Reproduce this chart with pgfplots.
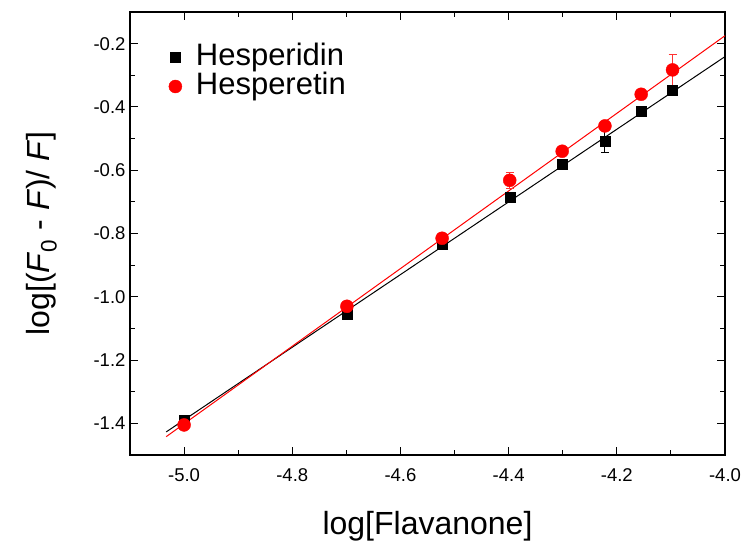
\documentclass[border=0pt]{standalone}
\usepackage{fontspec}
\setmainfont{Liberation Sans}
\usepackage{pgfplots}
\pgfplotsset{compat=1.18}

\pgfplotstableread{
x y ey
-5.000 -1.390 0.010
-4.699 -1.055 0.015
-4.523 -0.835 0.010
-4.398 -0.685 0.010
-4.301 -0.580 0.010
-4.222 -0.508 0.035
-4.155 -0.415 0.010
-4.097 -0.348 0.010
}\hesperidin

\pgfplotstableread{
x y ey
-5.000 -1.405 0.010
-4.699 -1.030 0.010
-4.523 -0.815 0.010
-4.398 -0.632 0.025
-4.301 -0.540 0.010
-4.222 -0.460 0.010
-4.155 -0.360 0.010
-4.097 -0.283 0.050
}\hesperetin

\begin{document}
\begin{tikzpicture}
\begin{axis}[
    at={(0pt,0pt)}, anchor=south west,
    scale only axis,
    width=595pt, height=443pt,
    xmin=-5.1, xmax=-4.0,
    ymin=-1.5, ymax=-0.1,
    xtick={-5.0,-4.8,...,-4.0},
    ytick={-1.4,-1.2,...,-0.2},
    minor x tick num=1,
    minor y tick num=1,
    tick align=inside,
    major tick length=8pt,
    minor tick length=5pt,
    axis line style={line width=1.2pt},
    every tick/.style={black, line width=1pt},
    /pgf/number format/assume math mode=true,
    /pgf/number format/.cd, fixed, fixed zerofill, precision=1,
    /pgfplots/.cd,
    xticklabel style={font=\fontsize{18.5}{20}\selectfont, yshift=-10pt},
    yticklabel style={font=\fontsize{18.5}{20}\selectfont, xshift=-1pt},
    xlabel={log[Flavanone]},
    ylabel={log[(\textit{F}\textsubscript{0} - \textit{F})/ \textit{F}]},
    label style={font=\fontsize{32}{34}\selectfont},
    xlabel style={yshift=-23pt},
    ylabel style={yshift=30pt},
    legend style={draw=none, fill=none, at={(0.06,0.935)}, anchor=north west,
        font=\fontsize{31}{29}\selectfont, row sep=0pt, column sep=14pt,
        nodes={inner sep=0pt, text height=23pt, text depth=6pt}},
    legend cell align=left,
]
\addplot[black, line width=1pt, forget plot] coordinates {(-5.033,-1.427) (-4.0,-0.241)};
\addplot[red, line width=1pt, forget plot] coordinates {(-5.033,-1.442) (-4.0,-0.175)};
\addplot[black, only marks, mark=square*, mark size=5pt,
    error bars/.cd, y dir=both, y explicit, error mark=|,
    error bar style={black, line width=1pt}, error mark options={black, mark size=4pt, line width=1pt}]
    table[x=x, y=y, y error=ey] {\hesperidin};
\addlegendentry{Hesperidin}
\addplot[red, only marks, mark=*, mark size=6.5pt,
    error bars/.cd, y dir=both, y explicit, error mark=|,
    error bar style={red!80!white, line width=1pt}, error mark options={red!80!white, mark size=4pt, line width=1pt}]
    table[x=x, y=y, y error=ey] {\hesperetin};
\addlegendentry{Hesperetin}
\end{axis}
\path[use as bounding box] (-130pt,-90pt) rectangle (615pt,455pt);
\end{tikzpicture}
\end{document}
